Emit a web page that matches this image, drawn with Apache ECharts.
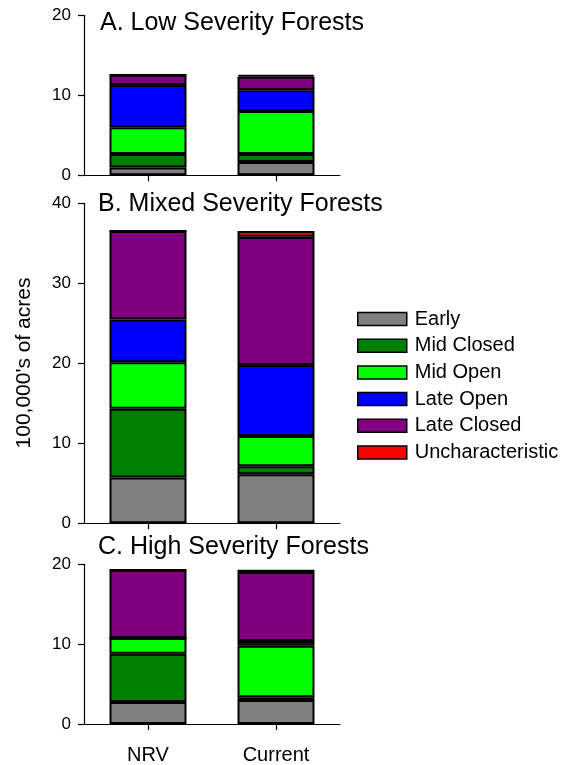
<!DOCTYPE html>
<html>
<head>
<meta charset="utf-8">
<script src="https://cdn.jsdelivr.net/npm/echarts@6/dist/echarts.min.js"></script>
<style>html,body{margin:0;padding:0;background:#fff;}#c{width:568px;height:765px;}</style>
</head>
<body>
<div id="c"></div>
<script>
var categories = ['NRV', 'Current'];
var seriesNames = ['Early', 'Mid Closed', 'Mid Open', 'Late Open', 'Late Closed', 'Uncharacteristic'];
var colors = ['#808080', '#008000', '#00ff00', '#0000ff', '#800080', '#ff0000'];
var panelTitles = ['A. Low Severity Forests', 'B. Mixed Severity Forests', 'C. High Severity Forests'];
var yMax = [20, 40, 20];
var yTicks = [[0, 10, 20], [0, 10, 20, 30, 40], [0, 10, 20]];

// values per panel: [NRV, Current] for each class
var lowEarly = [0.96, 1.67];
var lowMidClosed = [1.71, 1.0];
var lowMidOpen = [3.33, 5.37];
var lowLateOpen = [5.29, 2.59];
var lowLateClosed = [1.25, 1.70];
var lowUnchar = [0, 0.2];

var mixEarly = [5.71, 6.13];
var mixMidClosed = [8.62, 1.0];
var mixMidOpen = [5.8, 3.79];
var mixLateOpen = [5.33, 8.87];
var mixLateClosed = [11.08, 16.04];
var mixUnchar = [0, 0.71];

var highEarly = [2.76, 3.0];
var highMidClosed = [6.05, 0.34];
var highMidOpen = [1.96, 6.47];
var highLateOpen = [0, 0.59];
var highLateClosed = [8.52, 8.64];
var highUnchar = [0, 0.29];

var panels = [
  [lowEarly, lowMidClosed, lowMidOpen, lowLateOpen, lowLateClosed, lowUnchar],
  [mixEarly, mixMidClosed, mixMidOpen, mixLateOpen, mixLateClosed, mixUnchar],
  [highEarly, highMidClosed, highMidOpen, highLateOpen, highLateClosed, highUnchar]
];

var font = 'Liberation Sans, Arial, sans-serif';
var grids = [
  {left: 84, width: 256, top: 15.3, height: 160},
  {left: 84, width: 256, top: 203.3, height: 320},
  {left: 84, width: 256, top: 564.3, height: 160}
];
var titleTops = [11, 192, 535];

var xAxes = [], yAxes = [], series = [], titles = [];
for (var p = 0; p < 3; p++) {
  xAxes.push({
    type: 'category', gridIndex: p, data: categories,
    axisLine: {lineStyle: {color: '#000', width: 1.2}},
    axisTick: {show: true, alignWithLabel: true, length: 6, lineStyle: {color: '#000', width: 1.2}},
    axisLabel: {show: p === 2, color: '#000', fontSize: 20, fontFamily: font, margin: 21},
    splitLine: {show: false}
  });
  yAxes.push({
    type: 'value', gridIndex: p, min: 0, max: yMax[p], interval: 10,
    axisLine: {show: true, lineStyle: {color: '#000', width: 1.2}},
    axisTick: {show: true, length: 6, lineStyle: {color: '#000', width: 1.2}},
    axisLabel: {color: '#000', fontSize: 17, fontFamily: font, margin: 13},
    splitLine: {show: false}
  });
  titles.push({
    text: panelTitles[p], left: p === 0 ? 100 : 98, top: titleTops[p], padding: 0,
    textStyle: {color: '#000', fontSize: 25, fontWeight: 'normal', fontFamily: font}
  });
  for (var s = 0; s < 6; s++) {
    series.push({
      type: 'bar', name: seriesNames[s], stack: 'p' + p,
      xAxisIndex: p, yAxisIndex: p, barWidth: 77,
      data: panels[p][s],
      itemStyle: {color: colors[s], borderColor: '#000', borderWidth: 2},
      emphasis: {disabled: true}
    });
  }
}

var chart = echarts.init(document.getElementById('c'), null, {renderer: 'canvas'});
chart.setOption({
  animation: false,
  backgroundColor: '#fff',
  title: titles,
  grid: grids,
  xAxis: xAxes,
  yAxis: yAxes,
  legend: {
    orient: 'vertical', left: 352, top: 304, data: seriesNames,
    itemWidth: 49, itemHeight: 13, itemGap: 6.7,
    icon: 'rect',
    textStyle: {color: '#000', fontSize: 20, fontFamily: font, lineHeight: 20, padding: [0,0,0,3]},
    itemStyle: {borderColor: '#000', borderWidth: 1.5},
    selectedMode: false
  },
  graphic: [{
    type: 'text', x: 24, y: 363, rotation: Math.PI / 2,
    style: {text: "100,000's of acres", font: '21px ' + font, fill: '#000', textAlign: 'center', textVerticalAlign: 'middle'}
  }],
  series: series
});
</script>
</body>
</html>
